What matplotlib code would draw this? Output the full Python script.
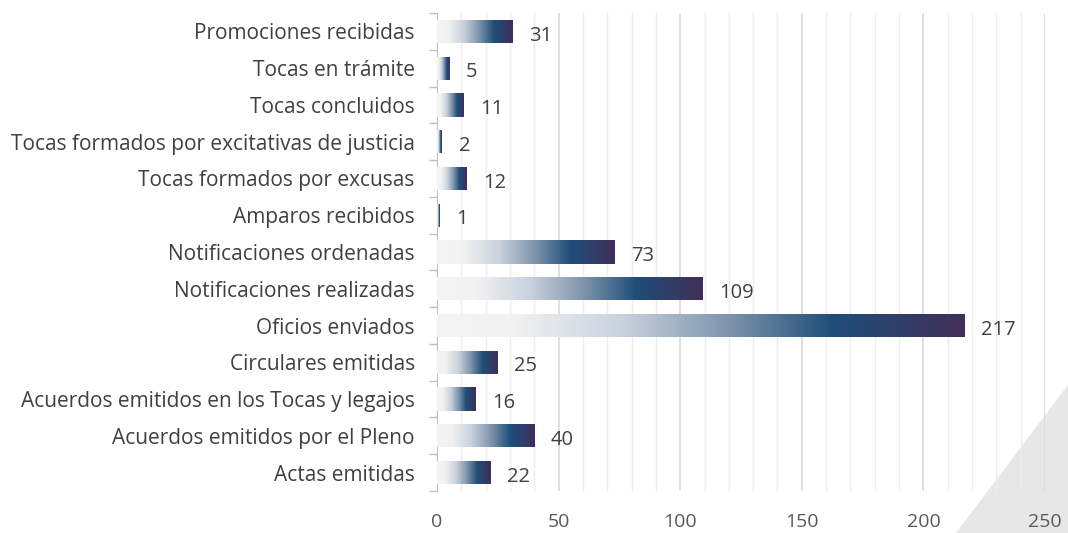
import matplotlib.pyplot as plt
import numpy as np
from matplotlib.colors import LinearSegmentedColormap
from matplotlib.patches import Polygon
from matplotlib.ticker import MultipleLocator, FixedLocator

plt.rcParams['font.family'] = ['Open Sans', 'DejaVu Sans']

# data (top to bottom as shown)
categorias = ['Promociones recibidas', 'Tocas en trámite', 'Tocas concluidos',
              'Tocas formados por excitativas de justicia', 'Tocas formados por excusas',
              'Amparos recibidos', 'Notificaciones ordenadas', 'Notificaciones realizadas',
              'Oficios enviados', 'Circulares emitidas',
              'Acuerdos emitidos en los Tocas y legajos', 'Acuerdos emitidos por el Pleno',
              'Actas emitidas']
valores = [31, 5, 11, 2, 12, 1, 73, 109, 217, 25, 16, 40, 22]
x_ticks = [0, 50, 100, 150, 200, 250]

# gradient used in each bar, left to right
grad = LinearSegmentedColormap.from_list('barra', [
    (0.0, '#f4f4f4'), (0.14, '#f2f2f2'), (0.35, '#c9d2dd'),
    (0.55, '#7f95ad'), (0.75, '#1f4e79'), (1.0, '#402f58')])

fig = plt.figure(figsize=(10.68, 5.33), dpi=100)

# grey triangle in the lower right corner
tri = Polygon([(956/1068, 0), (1.0, 0), (1.0, 1 - 385/533)], closed=True,
              transform=fig.transFigure, facecolor='#e7e7e7', edgecolor='none', zorder=-1)
fig.patches.append(tri)

ax = fig.add_axes([437/1068, 1 - 491/533, (1045 - 437)/1068, (491 - 13)/533])
ax.patch.set_alpha(0)

n = len(categorias)
ypos = np.arange(n)[::-1]
bars = ax.barh(ypos, valores, height=0.63, color='none', edgecolor='none', zorder=3)

g = np.linspace(0, 1, 256).reshape(1, -1)
for b, v in zip(bars, valores):
    x0, y0 = b.get_x(), b.get_y()
    w, h = b.get_width(), b.get_height()
    im = ax.imshow(g, cmap=grad, aspect='auto', extent=[x0, x0 + w, y0, y0 + h],
                   zorder=3, interpolation='bilinear')
    im.set_clip_path(b)
    ax.annotate(str(v), (x0 + w, y0 + h / 2), xytext=(12, -3), textcoords='offset points',
                va='center', ha='left', fontsize=14.5, color='#404040')

ax.set_xlim(0, 250)
ax.set_ylim(-0.5, n - 0.5)
ax.set_xticks(x_ticks)
ax.xaxis.set_minor_locator(MultipleLocator(10))
ax.grid(axis='x', which='major', color='#d9d9d9', linewidth=1.2, zorder=0)
ax.grid(axis='x', which='minor', color='#eeeeee', linewidth=1.0, zorder=0)
ax.set_axisbelow(True)

ax.set_yticks(ypos)
ax.set_yticklabels(categorias)
ax.yaxis.set_minor_locator(FixedLocator(np.arange(-0.5, n, 1)))
ax.tick_params(axis='y', which='major', length=0, pad=16, labelsize=15, labelcolor='#404040')
ax.tick_params(axis='y', which='minor', length=6, color='#bfbfbf', width=1)
ax.tick_params(axis='x', which='both', length=0, pad=16, labelsize=14, labelcolor='#595959')

for s in ['top', 'right', 'bottom']:
    ax.spines[s].set_visible(False)
ax.spines['left'].set_color('#bfbfbf')

fig.savefig('out.png', dpi=100)
